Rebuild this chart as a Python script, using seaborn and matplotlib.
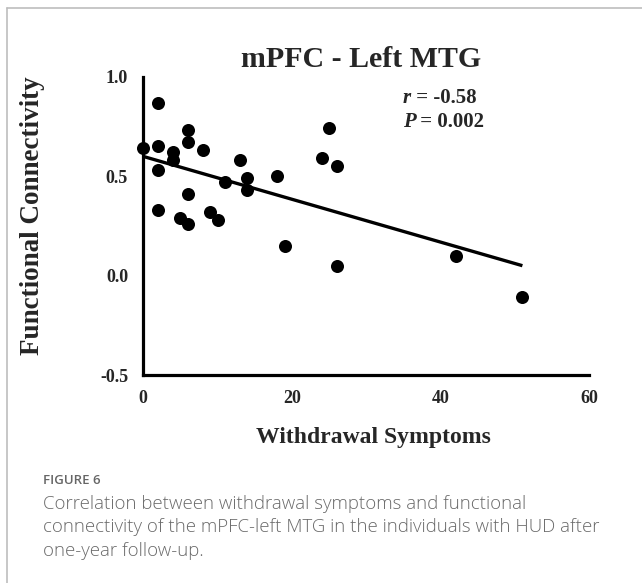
import matplotlib
matplotlib.use("Agg")
import matplotlib.pyplot as plt
from matplotlib.lines import Line2D
import pandas as pd
import seaborn as sns

# values
withdrawal = [0, 2, 2, 2, 2, 4, 4, 5, 6, 6, 6, 6, 8, 9, 10, 11, 13, 14, 14,
              18, 19, 24, 25, 26, 26, 42, 51]
connectivity = [0.64, 0.87, 0.65, 0.53, 0.33, 0.62, 0.58, 0.29, 0.73, 0.67,
                0.41, 0.26, 0.63, 0.32, 0.28, 0.47, 0.58, 0.49, 0.43, 0.50,
                0.15, 0.59, 0.74, 0.55, 0.05, 0.10, -0.11]
x_ticks = [0, 20, 40, 60]
y_ticks = [-0.5, 0.0, 0.5, 1.0]
y_tick_labels = ["-0.5", "0.0", "0.5", "1.0"]

title = "mPFC - Left MTG"
x_label = "Withdrawal Symptoms"
y_label = "Functional Connectivity"
r_text = "-0.58"
p_text = "0.002"
fig_tag = "FIGURE 6"
caption = ["Correlation between withdrawal symptoms and functional",
           "connectivity of the mPFC-left MTG in the individuals with HUD after",
           "one-year follow-up."]

df = pd.DataFrame({"Withdrawal": withdrawal, "FC": connectivity})

sns.set_style("white")
plt.rcParams["font.family"] = ["Liberation Serif", "DejaVu Serif"]

W, H = 642, 583
fig = plt.figure(figsize=(W / 100, H / 100), dpi=100)


def fx(px):
    return px / W


def fy(py):
    return 1 - py / H


ax = fig.add_axes([fx(143.3), fy(375), fx(589.3) - fx(143.3), fy(76.7) - fy(375)])

sns.regplot(x="Withdrawal", y="FC", data=df, ax=ax, ci=None, truncate=True,
            scatter_kws=dict(s=88, color="black", linewidths=0, alpha=1),
            line_kws=dict(color="black", lw=2.4, solid_capstyle="butt"))

ax.set_xlim(0, 60)
ax.set_ylim(-0.5, 1.0)
ax.set_xticks(x_ticks)
ax.set_yticks(y_ticks)
ax.set_yticklabels(y_tick_labels)
ax.set_xlabel("")
ax.set_ylabel("")
for side in ["top", "right"]:
    ax.spines[side].set_visible(False)
for side in ["left", "bottom"]:
    ax.spines[side].set_linewidth(2.3)
    ax.spines[side].set_color("black")
    ax.spines[side].set_capstyle("projecting")
ax.tick_params(direction="out", length=7.5, width=2.3, color="black",
               labelsize=13, pad=3.5)
for lab in ax.get_xticklabels() + ax.get_yticklabels():
    lab.set_fontweight("bold")
for coll in ax.collections:
    coll.set_clip_on(False)

# titles and axis labels
fig.text(fx(361.5), fy(66.7), title, ha="center", va="baseline",
         fontsize=21.5, fontweight="bold")
fig.text(fx(373), fy(443), x_label, ha="center", va="baseline",
         fontsize=17, fontweight="bold")
fig.text(fx(33), fy(216), y_label, ha="center", va="center", rotation=90,
         fontsize=19.5, fontweight="bold")

# correlation statistics
t1 = fig.text(fx(402.7), fy(103), "r", ha="left", va="baseline",
              fontsize=15, fontweight="bold", fontstyle="italic")
ax.annotate(" = " + r_text, xy=(1, 0), xycoords=t1, ha="left", va="bottom",
            fontsize=15, fontweight="bold", annotation_clip=False)
t2 = fig.text(fx(402.7), fy(127), "P", ha="left", va="baseline",
              fontsize=15, fontweight="bold", fontstyle="italic")
ax.annotate(" = " + p_text, xy=(1, 0), xycoords=t2, ha="left", va="bottom",
            fontsize=15, fontweight="bold", annotation_clip=False)

# caption
fig.text(fx(43), fy(484), fig_tag, ha="left", va="baseline", fontsize=9.5,
         color="#666666", family=["Open Sans", "DejaVu Sans"], fontweight="semibold")
for i, line in enumerate(caption):
    fig.text(fx(43), fy(509 + 23.5 * i), line, ha="left", va="baseline",
             fontsize=13.4, color="#6a6a6a", family=["Open Sans", "DejaVu Sans"],
             fontweight="light")

# frame of the figure panel
fig.add_artist(Line2D([fx(7), 1], [fy(8), fy(8)], color="#bdbdbd", lw=1.2))
fig.add_artist(Line2D([fx(7), fx(7)], [fy(8), 0], color="#bdbdbd", lw=1.2))

fig.savefig("out.png", dpi=100)
